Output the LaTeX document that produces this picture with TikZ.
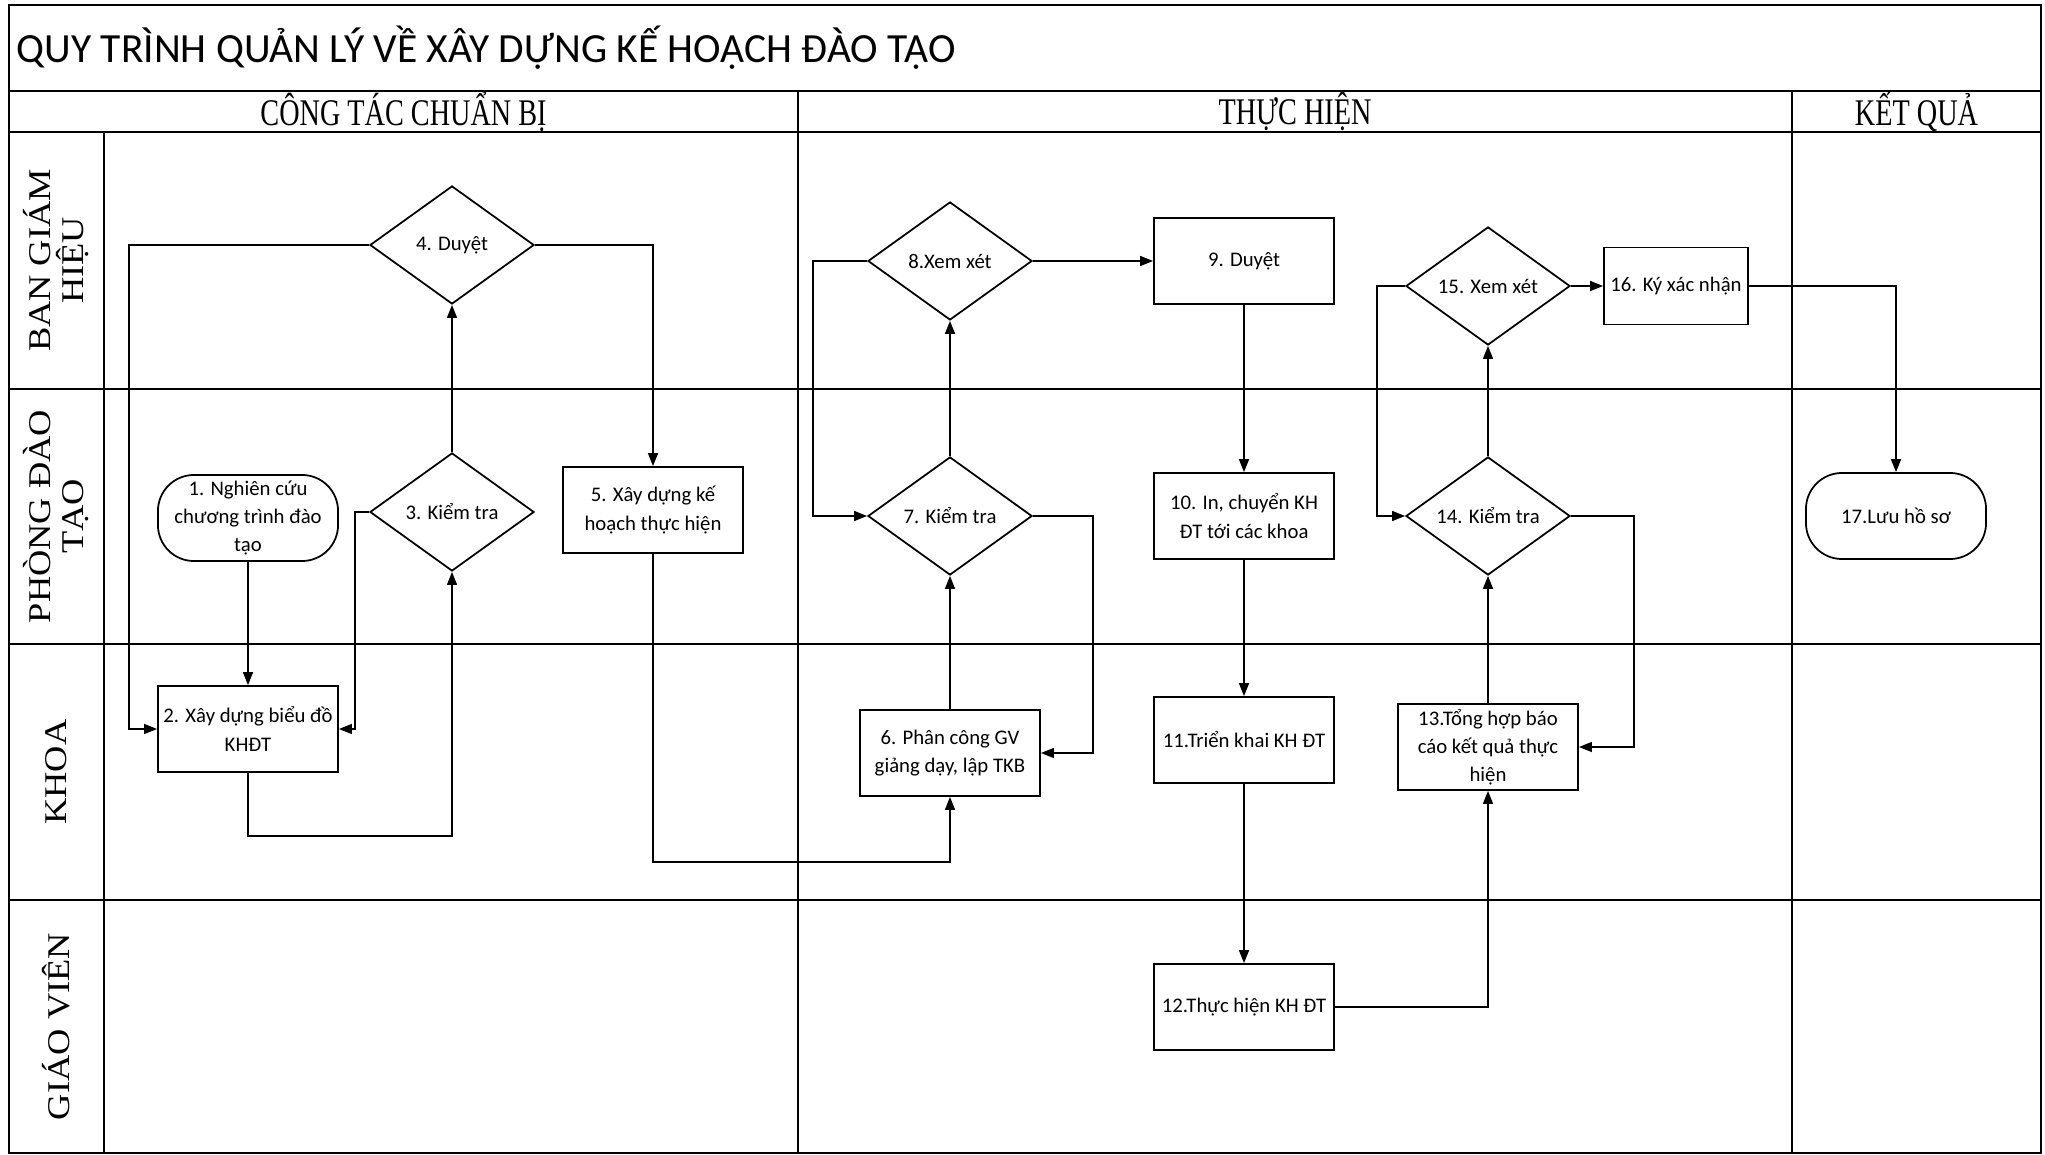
\documentclass[tikz,border=0pt]{standalone}
\usepackage{fontspec}
\setmainfont{Carlito}
\newfontfamily\lanefont[FakeStretch=1.15]{Liberation Serif}
\newfontfamily\headfont[FakeStretch=0.75]{Liberation Serif}
\usepackage{tikz}
\usetikzlibrary{shapes.geometric,arrows.meta}

\begin{document}
\begin{tikzpicture}[x=0.01cm,y=-0.01cm,
  box/.style={draw,line width=0.5pt,minimum width=1.8cm,minimum height=0.86cm,align=center,inner sep=1pt,font=\fontsize{5.9}{8}\selectfont},
  term/.style={box,rounded corners=3.6mm},
  dec/.style={draw,diamond,line width=0.5pt,minimum width=1.64cm,minimum height=1.18cm,aspect=1.4,inner sep=0pt,font=\fontsize{5.9}{8}\selectfont},
  arr/.style={line width=0.45pt,-{Triangle[length=1.3mm,width=1mm]}},
  lane/.style={rotate=90,align=center,font=\lanefont\fontsize{9}{9.4}\selectfont},
  phase/.style={font=\headfont\fontsize{10.7}{12}\selectfont}]
  \useasboundingbox (0,0) rectangle (2045,1155);

  \draw[line width=0.8pt] (9,5) rectangle (2041,1153);
  \foreach \y in {91,132,389,644,900}
    \draw[line width=0.8pt] (9,\y) -- (2041,\y);
  \draw[line width=0.5pt] (104,132) -- (104,1153);
  \draw[line width=0.5pt] (798,91) -- (798,1153);
  \draw[line width=0.5pt] (1792,91) -- (1792,1153);

  \node[anchor=west,inner sep=0pt,font=\fontsize{11.8}{14}\selectfont] (T) at (16,48) {QUY TRÌNH QUẢN LÝ VỀ XÂY DỰNG KẾ HOẠCH ĐÀO TẠO};

  \node[phase] (P1) at (403.5,111.5) {CÔNG TÁC CHUẨN BỊ};
  \node[phase] (P2) at (1295,111.5) {THỰC HIỆN};
  \node[phase] (P3) at (1916.5,111.5) {KẾT QUẢ};

  \node[lane] (L1) at (56.5,260.5) {BAN GIÁM\\HIỆU};
  \node[lane] (L2) at (56.5,516.5) {PHÒNG ĐÀO\\TẠO};
  \node[lane] (L3) at (56.5,772) {KHOA};
  \node[lane] (L4) at (56.5,1026.5) {GIÁO VIÊN};

  \node[term] (S1) at (248,518) {1. Nghiên cứu\\chương trình đào\\tạo};
  \node[box] (S2) at (248,729) {2. Xây dựng biểu đồ\\KHĐT};
  \node[dec] (S3) at (452,512) {3. Kiểm tra};
  \node[dec] (S4) at (452,245) {4. Duyệt};
  \node[box] (S5) at (653,510) {5. Xây dựng kế\\hoạch thực hiện};
  \node[box] (S6) at (950,753) {6. Phân công GV\\giảng dạy, lập TKB};
  \node[dec] (S7) at (950,516) {7. Kiểm tra};
  \node[dec] (S8) at (950,261) {8.Xem xét};
  \node[box] (S9) at (1244,261) {9. Duyệt};
  \node[box] (S10) at (1244,516) {10. In, chuyển KH\\ĐT tới các khoa};
  \node[box] (S11) at (1244,740) {11.Triển khai KH ĐT};
  \node[box] (S12) at (1244,1007) {12.Thực hiện KH ĐT};
  \node[box] (S13) at (1488,747) {13.Tổng hợp báo\\cáo kết quả thực\\hiện};
  \node[dec] (S14) at (1488,516) {14. Kiểm tra};
  \node[dec] (S15) at (1488,286) {15. Xem xét};
  \node[box,minimum width=1.44cm,minimum height=0.77cm] (S16) at (1676,286) {16. Ký xác nhận};
  \node[term] (S17) at (1896,516) {17.Lưu hồ sơ};

  \draw[arr] (S1) -- (S2);
  \draw[arr] (S2.south) -- ++(0,63) -| (S3.south);
  \draw[arr] (S3) -- (S4);
  \draw[arr] (S3.west) -- ++(-14,0) |- (S2.east);
  \draw[arr] (S4.west) -- ++(-240,0) |- (S2.west);
  \draw[arr] (S4.east) -| (S5.north);
  \draw[arr] (S5.south) -- ++(0,308) -| (S6.south);
  \draw[arr] (S6) -- (S7);
  \draw[arr] (S7.east) -- ++(60,0) |- (S6.east);
  \draw[arr] (S7) -- (S8);
  \draw[arr] (S8.west) -- ++(-54,0) |- (S7.west);
  \draw[arr] (S8) -- (S9);
  \draw[arr] (S9) -- (S10);
  \draw[arr] (S10) -- (S11);
  \draw[arr] (S11) -- (S12);
  \draw[arr] (S12.east) -| (S13.south);
  \draw[arr] (S13) -- (S14);
  \draw[arr] (S14.east) -- ++(63,0) |- (S13.east);
  \draw[arr] (S14) -- (S15);
  \draw[arr] (S15.west) -- ++(-28,0) |- (S14.west);
  \draw[arr] (S15) -- (S16);
  \draw[arr] (S16.east) -| (S17.north);
\end{tikzpicture}
\end{document}
